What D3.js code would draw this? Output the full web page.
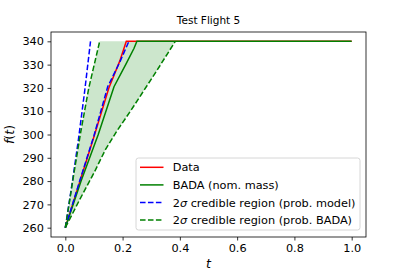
<!DOCTYPE html>
<html><head><meta charset="utf-8">
<script src="https://cdn.jsdelivr.net/npm/d3@7"></script>
<style>body{margin:0;background:#fff}svg{display:block}text{font-family:"DejaVu Sans",sans-serif}</style>
</head><body><svg id="c" width="407" height="271"></svg>
<script>
// Data
const dataT = [0, 0.05, 0.1, 0.152, 0.19, 0.213, 1.0];
const dataF = [260, 279.5, 299, 320, 331.5, 340, 340];
const badaT = [0, 0.055, 0.115, 0.17, 0.213, 0.24, 0.25, 1.0];
const badaF = [260, 280, 300, 320.5, 330.5, 337, 340, 340];
const modelLoT = [0, 0.025, 0.046, 0.068, 0.088];
const modelLoF = [260, 280, 298, 319, 340];
const modelHiT = [0, 0.05, 0.1, 0.148, 0.19, 0.222];
const modelHiF = [260, 280, 299.5, 320.5, 331, 340];
const badaLoT = [0, 0.027, 0.053, 0.082, 0.12];
const badaLoF = [260, 281, 300.5, 320, 340];
const badaHiT = [0, 0.05, 0.1, 0.14, 0.18, 0.23, 0.267, 0.32, 0.384];
const badaHiF = [260, 272, 283.5, 293.5, 301.5, 310.5, 317.5, 327.5, 340];
const capF = 340;
const xTicks = [0, 0.2, 0.4, 0.6, 0.8, 1.0];
const yTicks = [260, 270, 280, 290, 300, 310, 320, 330, 340];
const legendLabels = ["Data", "BADA (nom. mass)", "credible region (prob. model)", "credible region (prob. BADA)"];

const svg = d3.select("#c");
const L = 51, R = 366, T = 32, B = 237;
const x = d3.scaleLinear().domain([-0.05, 1.05]).range([L, R]);
const y = d3.scaleLinear().domain([256, 344]).range([B, T]);
const pts = (ts, fs) => ts.map((t, i) => [t, fs[i]]);
const line = d3.line().x(d => x(d[0])).y(d => y(d[1]));

svg.append("clipPath").attr("id", "clip").append("rect")
  .attr("x", L).attr("y", T).attr("width", R - L).attr("height", B - T);
const g = svg.append("g").attr("clip-path", "url(#clip)");

// fill region between BADA bounds, capped at 340
const poly = pts(badaLoT, badaLoF).concat([[badaHiT[badaHiT.length - 1], capF]])
  .concat(pts(badaHiT, badaHiF).reverse());
g.append("path").attr("d", line(poly) + "Z").attr("fill", "#008000").attr("fill-opacity", 0.2).attr("stroke", "none");

const dash = "5.55,2.4";
g.append("path").attr("d", line(pts(dataT, dataF))).attr("fill", "none").attr("stroke", "#ff0000").attr("stroke-width", 1.5);
g.append("path").attr("d", line(pts(badaT, badaF))).attr("fill", "none").attr("stroke", "#008000").attr("stroke-width", 1.5);
[[modelLoT, modelLoF], [modelHiT, modelHiF]].forEach(([a, b]) =>
  g.append("path").attr("d", line(pts(a, b))).attr("fill", "none").attr("stroke", "#0000ff").attr("stroke-width", 1.5).attr("stroke-dasharray", dash));
[[badaLoT, badaLoF], [badaHiT, badaHiF]].forEach(([a, b]) =>
  g.append("path").attr("d", line(pts(a, b))).attr("fill", "none").attr("stroke", "#008000").attr("stroke-width", 1.5).attr("stroke-dasharray", dash));

// axes
const xa = svg.append("g").attr("transform", `translate(0,${B})`)
  .call(d3.axisBottom(x).tickValues(xTicks).tickFormat(d3.format(".1f")).tickSize(3.5).tickPadding(3.5).tickSizeOuter(0));
const ya = svg.append("g").attr("transform", `translate(${L},0)`)
  .call(d3.axisLeft(y).tickValues(yTicks).tickFormat(d3.format("d")).tickSize(3.5).tickPadding(3.5).tickSizeOuter(0));
[xa, ya].forEach(a => {
  a.select(".domain").remove();
  a.selectAll("text").attr("font-size", 11.3).attr("fill", "#000").style("font-family", "DejaVu Sans");
  a.selectAll("line").attr("stroke", "#000").attr("stroke-width", 0.8);
});
svg.append("rect").attr("x", L).attr("y", T).attr("width", R - L).attr("height", B - T)
  .attr("fill", "none").attr("stroke", "#000").attr("stroke-width", 0.8);

// title & labels
svg.append("text").attr("x", (L + R) / 2).attr("y", 24.3).attr("text-anchor", "middle").attr("font-size", 10.5).text("Test Flight 5");
const xl = svg.append("text").attr("x", (L + R) / 2).attr("y", 268).attr("text-anchor", "middle").attr("font-size", 12.5);
xl.append("tspan").attr("font-style", "italic").text("t");
const yl = svg.append("text").attr("transform", `translate(13.5,${(T + B) / 2}) rotate(-90)`).attr("text-anchor", "middle").attr("font-size", 12.5);
yl.append("tspan").attr("font-style", "italic").text("f");
yl.append("tspan").text("(");
yl.append("tspan").attr("font-style", "italic").text("t");
yl.append("tspan").text(")");

// legend
const lg = svg.append("g");
lg.append("rect").attr("x", 136).attr("y", 158).attr("width", 224).attr("height", 72).attr("rx", 2.5)
  .attr("fill", "#fff").attr("fill-opacity", 0.8).attr("stroke", "#cccccc").attr("stroke-width", 0.8);
const styles = [["#ff0000", null], ["#008000", null], ["#0000ff", dash], ["#008000", dash]];
legendLabels.forEach((lab, i) => {
  const yy = 167.3 + i * 17.6;
  lg.append("line").attr("x1", 140).attr("x2", 163.5).attr("y1", yy).attr("y2", yy)
    .attr("stroke", styles[i][0]).attr("stroke-width", 1.5).attr("stroke-dasharray", styles[i][1]);
  const t = lg.append("text").attr("x", 172.7).attr("y", yy).attr("dy", "0.36em").attr("font-size", 11.3);
  if (i >= 2) {
    t.append("tspan").text("2");
    t.append("tspan").attr("font-style", "italic").text("σ");
    t.append("tspan").text(" " + lab);
  } else t.text(lab);
});
</script></body></html>
